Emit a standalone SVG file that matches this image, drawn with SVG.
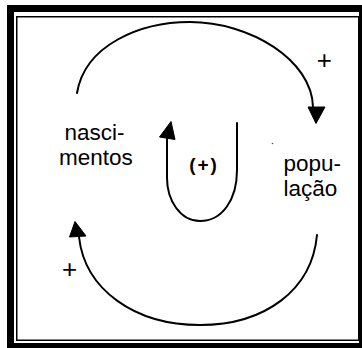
<svg xmlns="http://www.w3.org/2000/svg" width="362" height="348" viewBox="0 0 362 348">
  <style>
    .lbl { font-family: "Liberation Sans", Arial, sans-serif; font-size: 22.5px; fill: #000; }
    .sign { font-family: "Liberation Sans", Arial, sans-serif; font-size: 26px; fill: #000; text-anchor: middle; }
    .loop { font-family: "Liberation Sans", Arial, sans-serif; font-size: 19px; font-weight: bold; fill: #000; text-anchor: middle; letter-spacing: 2px; }
    .conn { fill: none; stroke: #000; stroke-width: 2; stroke-linecap: round; stroke-linejoin: round; }
    .head { fill: #000; stroke: #000; stroke-width: 1; stroke-linejoin: round; }
  </style>
  <rect x="0" y="0" width="362" height="348" fill="#fff"/>
  <g id="frame">
    <rect x="7" y="5" width="355" height="343" fill="#000"/>
    <rect x="14" y="12" width="345" height="331" fill="#fff"/>
    <rect x="16.75" y="16.75" width="342" height="323.5" fill="none" stroke="#000" stroke-width="1.5"/>
  </g>
  <g id="connectors">
    <path class="conn" d="M77,93 C85,45 140,22 190,22 C250,22 312,60 313,107"/>
    <polygon class="head" points="308,107 325,107 316,123.5"/>
    <path class="conn" d="M317,235 C312,290 265,325 200,325 C135,325 85,290 79,237"/>
    <polygon class="head" points="75,221.5 69.5,237 86,236"/>
    <path class="conn" d="M237,123 L237,170 C237,200 222,221 200,221 C180,221 167,200 167,178 L167,139"/>
    <polygon class="head" points="171,121.5 159.5,137 175,139.5"/>
    <text class="sign" x="324.3" y="68.5">+</text>
    <text class="sign" x="69.7" y="278.3">+</text>
    <circle cx="272.5" cy="143.5" r="0.8" fill="#555"/>
  </g>
  <g id="nascimentos">
    <text class="lbl" x="64.5" y="140">nasci-</text>
    <text class="lbl" x="59" y="165">mentos</text>
  </g>
  <g id="populacao">
    <text class="lbl" x="283.5" y="170.5">popu-</text>
    <text class="lbl" x="283.5" y="195.5">lação</text>
  </g>
  <g id="loop">
    <text class="loop" x="204" y="171">(+)</text>
  </g>
</svg>
